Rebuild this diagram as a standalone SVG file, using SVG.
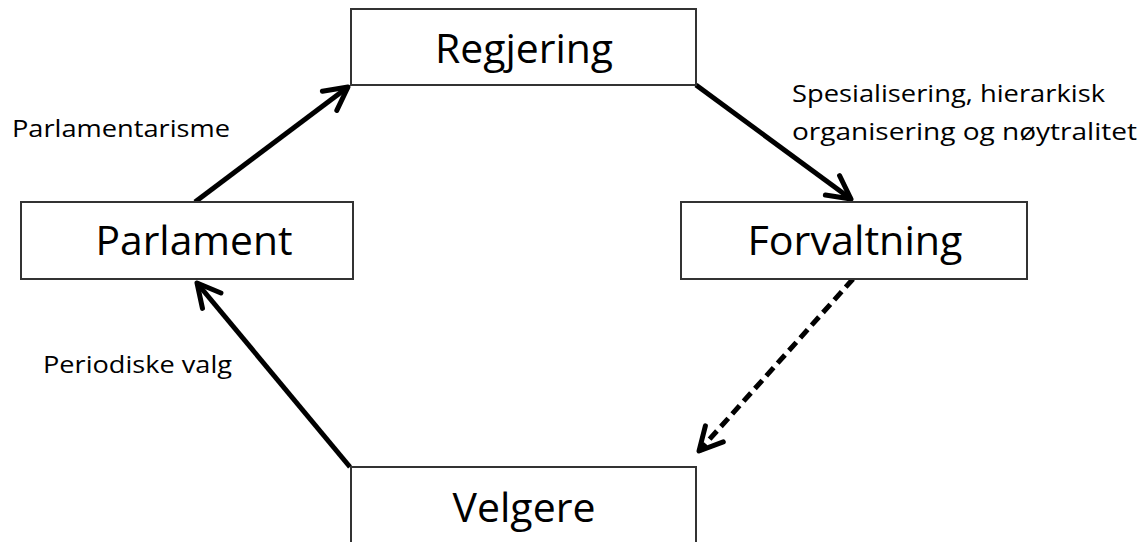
<svg xmlns="http://www.w3.org/2000/svg" width="1143" height="542" viewBox="0 0 1143 542">
<style>
.box{fill:#fff;stroke:#333;stroke-width:2}
.bt{font-family:"Open Sans","Liberation Sans",sans-serif;font-size:40px;fill:#000;text-anchor:middle}
.lb{font-family:"Open Sans","Liberation Sans",sans-serif;font-size:24px;fill:#000}
.ar{fill:none;stroke:#000;stroke-width:5;marker-end:url(#ah)}
</style>
<defs>
<marker id="ah" markerUnits="userSpaceOnUse" viewBox="-30 -16 34 32" refX="0" refY="0" markerWidth="34" markerHeight="32" orient="auto" overflow="visible">
<path d="M -23 -12 L 0 0 L -23 12" fill="none" stroke="#000" stroke-width="5" stroke-linecap="round" stroke-linejoin="round"/>
</marker>
</defs>
<g id="connectors">
<line class="ar" x1="195" y1="202" x2="348" y2="87"/>
<line class="ar" x1="696" y1="85" x2="851" y2="199"/>
<line class="ar" x1="853" y1="279" x2="699" y2="451" stroke-dasharray="11 6"/>
<line class="ar" x1="350" y1="467" x2="197" y2="283"/>
</g>
<g id="regjering">
<rect class="box" x="351" y="9" width="345" height="76"/>
<text class="bt" x="524" y="63" textLength="178" lengthAdjust="spacingAndGlyphs">Regjering</text>
</g>
<g id="parlament">
<rect class="box" x="21" y="202" width="332" height="77"/>
<text class="bt" x="194" y="255" textLength="197" lengthAdjust="spacingAndGlyphs">Parlament</text>
</g>
<g id="forvaltning">
<rect class="box" x="681" y="202" width="346" height="77"/>
<text class="bt" x="855" y="255" textLength="215" lengthAdjust="spacingAndGlyphs">Forvaltning</text>
</g>
<g id="velgere">
<rect class="box" x="351" y="467" width="345" height="90"/>
<text class="bt" x="524" y="522" textLength="143" lengthAdjust="spacingAndGlyphs">Velgere</text>
</g>
<g id="labels">
<text class="lb" x="12" y="137" textLength="218" lengthAdjust="spacingAndGlyphs">Parlamentarisme</text>
<text class="lb" x="792" y="102" textLength="313" lengthAdjust="spacingAndGlyphs">Spesialisering, hierarkisk</text>
<text class="lb" x="792" y="140" textLength="345" lengthAdjust="spacingAndGlyphs">organisering og nøytralitet</text>
<text class="lb" x="43" y="373" textLength="189" lengthAdjust="spacingAndGlyphs">Periodiske valg</text>
</g>
</svg>
